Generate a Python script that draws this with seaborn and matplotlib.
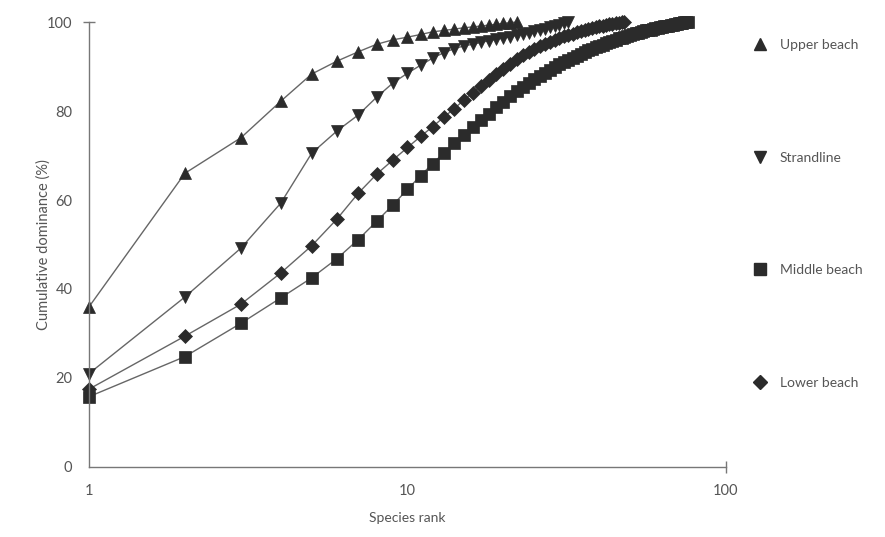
import numpy as np
import pandas as pd
import matplotlib
matplotlib.use("Agg")
import matplotlib.pyplot as plt
from matplotlib.lines import Line2D
import seaborn as sns

# ---- data ----
upper_beach = [36.0, 66.0, 74.0, 82.2, 88.3, 91.2, 93.3, 95.0, 96.0, 96.6, 97.2, 97.8,
               98.1, 98.4, 98.7, 98.9, 99.1, 99.3, 99.5, 99.7, 99.85, 100.0]
strandline = [21.0, 38.2, 49.2, 59.3, 70.5, 75.5, 79.1, 83.1, 86.3, 88.5, 90.3, 91.9,
              93.1, 94.0, 94.6, 95.0, 95.4, 95.8, 96.1, 96.4, 96.7, 97.0, 97.3, 97.6,
              97.9, 98.2, 98.5, 98.8, 99.1, 99.4, 99.7, 100.0]
middle_beach = [15.8, 24.8, 32.3, 38.0, 42.5, 46.8, 51.1, 55.2, 58.9, 62.4, 65.5, 68.2,
                70.6, 72.7, 74.5, 76.3, 77.9, 79.4, 80.8, 82.1, 83.3, 84.4, 85.4, 86.3,
                87.1, 87.9, 88.6, 89.3, 89.9, 90.5, 91.0, 91.5, 92.0, 92.4, 92.8, 93.2,
                93.6, 94.0, 94.3, 94.6, 94.9, 95.2, 95.5, 95.8, 96.0, 96.3, 96.5, 96.7,
                96.9, 97.1, 97.3, 97.5, 97.6, 97.8, 97.9, 98.1, 98.2, 98.3, 98.5, 98.6,
                98.7, 98.8, 98.9, 99.0, 99.1, 99.2, 99.3, 99.4, 99.5, 99.6, 99.7, 99.75,
                99.8, 99.9, 99.95, 100.0]
lower_beach = [17.5, 29.4, 36.6, 43.6, 49.7, 55.7, 61.5, 65.8, 69.0, 71.8, 74.3, 76.5,
               78.6, 80.5, 82.4, 84.1, 85.6, 87.0, 88.3, 89.5, 90.6, 91.6, 92.5, 93.3,
               94.0, 94.6, 95.1, 95.6, 96.0, 96.4, 96.8, 97.1, 97.4, 97.7, 98.0, 98.2,
               98.4, 98.6, 98.8, 99.0, 99.2, 99.3, 99.5, 99.6, 99.7, 99.8, 99.9, 100.0]

series_names = ["Upper beach", "Strandline", "Middle beach", "Lower beach"]
series_values = [upper_beach, strandline, middle_beach, lower_beach]
series_markers = ["^", "v", "s", "D"]
series_sizes = [8.5, 8.5, 8.0, 7.0]

x_ticks = [1, 10, 100]
x_tick_labels = ["1", "10", "100"]
y_ticks = [0, 20, 40, 60, 80, 100]

rows = []
for name, vals in zip(series_names, series_values):
    for i, v in enumerate(vals):
        rows.append({"Site": name, "rank": i + 1, "dominance": v})
df = pd.DataFrame(rows)

sns.set_style("white")
plt.rcParams["font.family"] = ["Lato", "DejaVu Sans"]

text_col = "#555555"
mark_col = "#2b2b2b"
line_col = "#666666"
axis_col = "#777777"

fig = plt.figure(figsize=(8.85, 5.37), dpi=100)
ax = fig.add_axes([0.1006, 0.1304, 0.7197, 0.8286])

for name, mk, ms in zip(series_names, series_markers, series_sizes):
    sub = df[df["Site"] == name]
    sns.lineplot(data=sub, x="rank", y="dominance", ax=ax, color=line_col,
                 linewidth=1.0, marker=mk, markersize=ms,
                 markerfacecolor=mark_col, markeredgecolor=mark_col,
                 markeredgewidth=0.5, clip_on=False, legend=False,
                 errorbar=None, sort=False)

ax.set_xscale("log")
ax.set_xlim(1, 100)
ax.set_ylim(0, 100)
ax.set_xticks(x_ticks)
ax.set_xticklabels(x_tick_labels)
ax.set_yticks(y_ticks)
# only the end ticks are drawn in the reference: use minor ticks for them
ax.xaxis.remove_overlapping_locs = False
ax.yaxis.remove_overlapping_locs = False
ax.set_xticks([100], minor=True)
ax.set_yticks([100], minor=True)
ax.xaxis.set_minor_formatter(matplotlib.ticker.NullFormatter())
ax.yaxis.set_minor_formatter(matplotlib.ticker.NullFormatter())

for side in ["top", "right"]:
    ax.spines[side].set_visible(False)
for side in ["left", "bottom"]:
    ax.spines[side].set_color(axis_col)
    ax.spines[side].set_linewidth(1.0)

ax.tick_params(axis="both", which="major", length=0, labelsize=10.5,
               labelcolor=text_col)
ax.tick_params(axis="both", which="minor", length=9, width=1.0,
               color=axis_col, direction="inout", left=True, bottom=True)
ax.tick_params(axis="y", which="major", pad=12)
ax.tick_params(axis="x", which="major", pad=12)

ax.set_xlabel("Species rank", fontsize=10, color=text_col, labelpad=10)
ax.set_ylabel("Cumulative dominance (%)", fontsize=10.5, color=text_col)
ax.yaxis.set_label_coords(-0.06, 0.5)

handles = [Line2D([], [], linestyle="none", marker=mk, markersize=ms,
                  markerfacecolor=mark_col, markeredgecolor=mark_col)
           for mk, ms in zip(series_markers, series_sizes)]
leg = fig.legend(handles, series_names, loc="upper left",
                 bbox_to_anchor=(0.845, 0.938), frameon=False,
                 labelspacing=7.25, handletextpad=0.9, fontsize=10,
                 handlelength=1.0, borderaxespad=0)
for t in leg.get_texts():
    t.set_color(text_col)

fig.savefig("out.png", dpi=100)
